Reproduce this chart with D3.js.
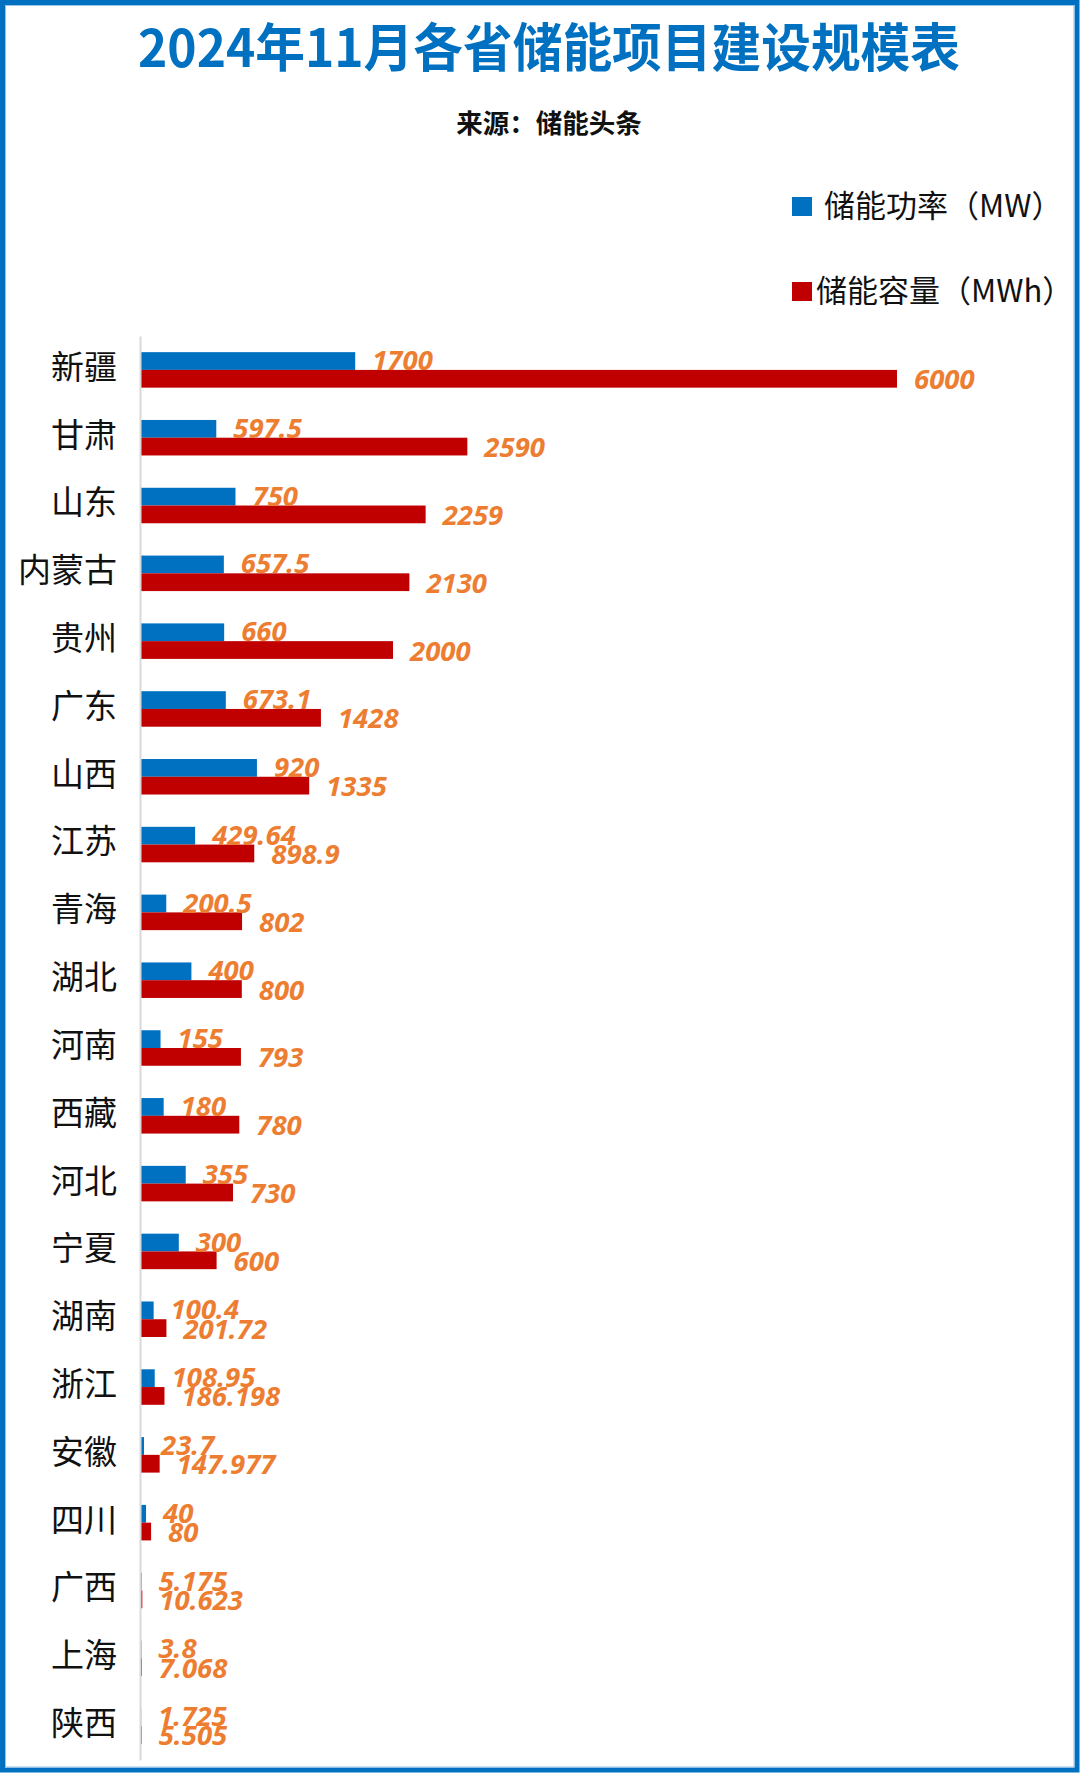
<!DOCTYPE html>
<html>
<head>
<meta charset="utf-8">
<script src="https://cdn.jsdelivr.net/npm/d3@7"></script>
<style>
  body { margin: 0; background: #fff; }
  svg { display: block; }
</style>
</head>
<body>
<div id="container"></div>
<script>
/* CONSTANTS AND GLOBALS */
const width = 1080,
  height = 1773,
  margin = { top: 336, bottom: 13, left: 141, right: 183 };

// data
const provinces = ["新疆", "甘肃", "山东", "内蒙古", "贵州", "广东", "山西", "江苏", "青海", "湖北", "河南",
  "西藏", "河北", "宁夏", "湖南", "浙江", "安徽", "四川", "广西", "上海", "陕西"];
const powerMW = [1700, 597.5, 750, 657.5, 660, 673.1, 920, 429.64, 200.5, 400, 155,
  180, 355, 300, 100.4, 108.95, 23.7, 40, 5.175, 3.8, 1.725];
const capacityMWh = [6000, 2590, 2259, 2130, 2000, 1428, 1335, 898.9, 802, 800, 793,
  780, 730, 600, 201.72, 186.198, 147.977, 80, 10.623, 7.068, 5.505];
const seriesNames = ["储能功率（MW）", "储能容量（MWh）"];
const seriesKeys = ["power", "capacity"];
const colors = ["#0070C0", "#C00000"];

const data = provinces.map((p, i) => ({ name: p, power: powerMW[i], capacity: capacityMWh[i] }));

const svg = d3.select("#container")
  .append("svg")
  .attr("width", width)
  .attr("height", height);

// frame
svg.append("rect")
  .attr("x", 2.5).attr("y", 2.5)
  .attr("width", width - 5.5).attr("height", height - 5.5)
  .attr("fill", "#fff")
  .attr("stroke", "#0070C0")
  .attr("stroke-width", 5);
svg.append("rect")
  .attr("x", 5.5).attr("y", 5.5)
  .attr("width", width - 11.5).attr("height", height - 11.5)
  .attr("fill", "none")
  .attr("stroke", "#9DC3E6")
  .attr("stroke-width", 1);

// title + source
svg.append("text")
  .attr("x", 549).attr("y", 67)
  .attr("text-anchor", "middle")
  .attr("textLength", 822)
  .attr("lengthAdjust", "spacingAndGlyphs")
  .style("font-family", "'Noto Sans CJK SC', sans-serif")
  .style("font-weight", 700)
  .style("font-size", "52px")
  .attr("fill", "#0070C0")
  .text("2024年11月各省储能项目建设规模表");

svg.append("text")
  .attr("x", 549).attr("y", 133)
  .attr("text-anchor", "middle")
  .style("font-family", "'Noto Sans CJK SC', sans-serif")
  .style("font-weight", 700)
  .style("font-size", "26.5px")
  .attr("fill", "#111")
  .text("来源：储能头条");

// legend
const legend = svg.append("g").attr("class", "legend");
const legendPos = [{ sx: 792, sy: 197, tx: 824, ty: 217 }, { sx: 792, sy: 282, tx: 816, ty: 302 }];
seriesNames.forEach((s, i) => {
  legend.append("rect")
    .attr("x", legendPos[i].sx).attr("y", legendPos[i].sy)
    .attr("width", 20).attr("height", 19)
    .attr("fill", colors[i]);
  legend.append("text")
    .attr("x", legendPos[i].tx).attr("y", legendPos[i].ty)
    .style("font-family", "'Noto Sans CJK SC', sans-serif")
    .style("font-size", "31px")
    .attr("fill", "#111")
    .text(s);
});

// + SCALES
const xScale = d3.scaleLinear()
  .domain([0, 6000])
  .range([margin.left, width - margin.right]);

const yScale = d3.scaleBand()
  .domain(provinces)
  .range([margin.top, height - margin.bottom]);

const ySub = d3.scaleBand()
  .domain(seriesKeys)
  .range([0, 35.5]);

const bandOffset = (yScale.bandwidth() - ySub.range()[1]) / 2;

// + BARS
const groups = svg.append("g")
  .selectAll("g")
  .data(data)
  .join("g")
  .attr("transform", d => `translate(0, ${yScale(d.name) + bandOffset})`);

groups.selectAll("rect")
  .data(d => seriesKeys.map((k, i) => ({ key: k, value: d[k], i })))
  .join("rect")
  .attr("x", xScale(0))
  .attr("y", d => ySub(d.key))
  .attr("width", d => xScale(d.value) - xScale(0))
  .attr("height", ySub.bandwidth())
  .attr("fill", d => colors[d.i]);

// + DATA LABELS
groups.selectAll("text")
  .data(d => seriesKeys.map((k, i) => ({ key: k, value: d[k], i })))
  .join("text")
  .attr("x", d => xScale(d.value) + 17)
  .attr("y", d => ySub(d.key) + ySub.bandwidth() / 2 + (d.i === 0 ? 9 : 10.5))
  .style("font-family", "'Noto Sans', sans-serif")
  .style("font-weight", 700)
  .style("font-style", "italic")
  .style("font-size", "27.5px")
  .attr("fill", "#ED7D31")
  .text(d => d.value);

// + AXIS
const yAxis = d3.axisLeft(yScale)
  .tickSize(0)
  .tickSizeOuter(0)
  .tickPadding(23);

const yAxisGroup = svg.append("g")
  .attr("class", "yAxis")
  .attr("transform", `translate(${margin.left - 1}, 0)`)
  .call(yAxis);

yAxisGroup.select(".domain")
  .attr("stroke", "#D9D9D9")
  .attr("stroke-width", 2);

yAxisGroup.selectAll(".tick text")
  .attr("dy", "0.27em")
  .style("font-family", "'Noto Sans CJK SC', sans-serif")
  .style("font-size", "33px")
  .attr("fill", "#111");
</script>
</body>
</html>
